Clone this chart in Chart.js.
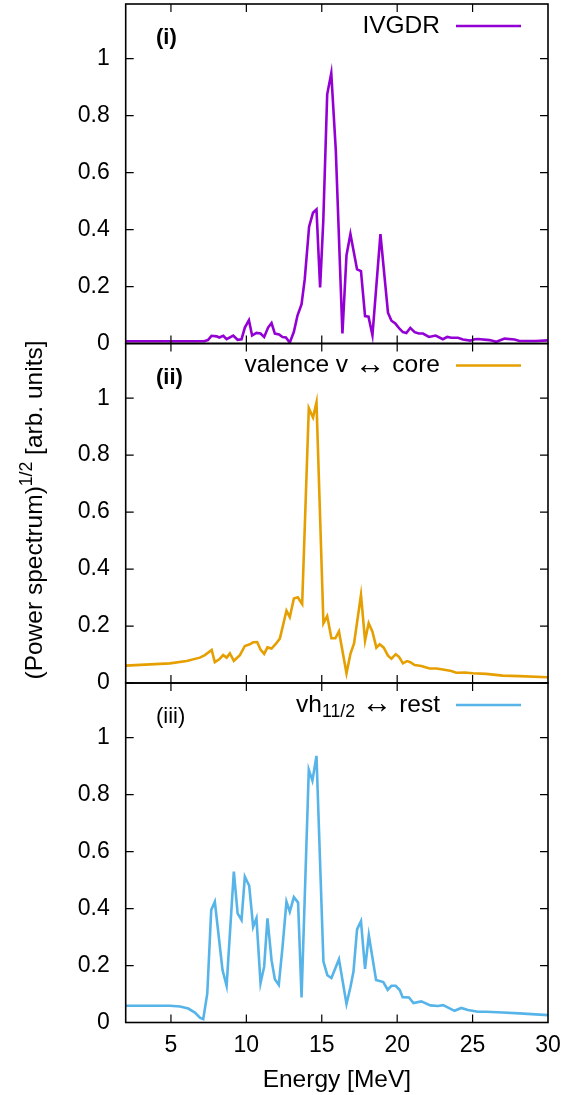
<!DOCTYPE html>
<html><head><meta charset="utf-8">
<script src="https://cdn.jsdelivr.net/npm/chart.js@4.4.1/dist/chart.umd.min.js"></script>
<style>
html,body{margin:0;padding:0;background:#fff;}
#wrap{position:relative;width:579px;height:1095px;background:#fff;}
canvas{position:absolute;left:0;top:0;}
</style></head><body>
<div id="wrap">
<canvas id="c1" width="579" height="1095"></canvas>
<canvas id="c2" width="579" height="1095"></canvas>
<canvas id="c3" width="579" height="1095"></canvas>
</div>
<script>
// ---------- data ----------
const energyI = [2.0,7.2,7.45,7.69,8.03,8.2,8.47,8.69,9.13,9.42,9.68,9.9,10.17,10.38,10.67,10.94,11.18,11.44,11.67,11.89,12.17,12.4,12.62,12.88,13.15,13.39,13.66,13.87,14.16,14.42,14.65,14.89,15.1,15.36,15.63,15.93,16.37,16.64,16.9,17.34,17.6,17.87,18.1,18.36,18.89,19.39,19.62,19.88,20.17,20.38,20.61,20.87,21.16,21.44,21.71,22.11,22.55,23.03,23.32,23.59,24.03,24.36,24.85,25.13,25.35,26.13,26.57,27.12,27.78,28.11,29.2,30.0];
const ivgdr = [0.008,0.008,0.012,0.027,0.025,0.021,0.027,0.015,0.028,0.013,0.015,0.056,0.082,0.028,0.037,0.035,0.023,0.056,0.072,0.035,0.032,0.023,0.021,0.003,0.041,0.098,0.138,0.225,0.41,0.459,0.471,0.197,0.43,0.875,0.949,0.679,0.035,0.31,0.384,0.26,0.254,0.096,0.094,0.029,0.384,0.108,0.08,0.07,0.051,0.04,0.037,0.055,0.04,0.035,0.035,0.023,0.028,0.015,0.023,0.02,0.02,0.014,0.01,0.015,0.016,0.012,0.006,0.017,0.014,0.009,0.009,0.011];

const energyII = [2.0,4.93,6.04,6.92,7.25,7.7,7.91,8.2,8.46,8.69,8.91,9.17,9.57,9.9,10.23,10.45,10.72,10.94,11.18,11.4,11.67,11.95,12.22,12.66,12.88,13.15,13.41,13.7,14.14,14.42,14.65,15.11,15.36,15.64,15.9,16.14,16.64,16.9,17.14,17.6,17.87,18.11,18.36,18.62,18.84,19.11,19.39,19.62,19.9,20.12,20.38,20.65,20.87,21.16,21.6,22.15,22.6,22.93,23.59,23.92,24.47,25.02,25.9,27.0,28.1,30.0];
const valenceCore = [0.061,0.069,0.077,0.089,0.098,0.116,0.073,0.083,0.098,0.089,0.104,0.078,0.098,0.13,0.136,0.143,0.144,0.117,0.102,0.125,0.121,0.137,0.156,0.254,0.231,0.297,0.301,0.277,0.965,0.932,0.985,0.21,0.235,0.157,0.157,0.181,0.034,0.102,0.139,0.309,0.149,0.21,0.18,0.124,0.136,0.124,0.096,0.085,0.101,0.092,0.069,0.077,0.073,0.063,0.06,0.051,0.051,0.048,0.042,0.036,0.037,0.034,0.032,0.026,0.024,0.02];

const energyIII = [2.0,4.93,5.6,6.15,6.59,6.92,7.14,7.41,7.67,7.91,8.42,8.69,9.17,9.42,9.68,9.9,10.19,10.45,10.67,10.94,11.18,11.4,11.67,11.89,12.15,12.4,12.66,12.88,13.15,13.43,13.66,14.14,14.38,14.65,15.11,15.37,15.64,16.14,16.64,16.9,17.1,17.34,17.6,17.87,18.12,18.6,19.08,19.37,19.62,19.9,20.17,20.36,20.78,21.08,21.6,22.2,22.7,23.05,23.8,24.25,24.69,25.35,25.9,27.0,28.1,30.0];
const vh112Rest = [0.059,0.059,0.056,0.049,0.035,0.017,0.012,0.102,0.395,0.424,0.184,0.129,0.53,0.383,0.36,0.512,0.48,0.336,0.366,0.138,0.196,0.366,0.219,0.152,0.132,0.266,0.424,0.389,0.44,0.421,0.088,0.887,0.849,0.936,0.214,0.166,0.156,0.222,0.065,0.124,0.178,0.327,0.356,0.188,0.306,0.149,0.142,0.115,0.129,0.129,0.114,0.089,0.088,0.068,0.074,0.06,0.058,0.061,0.041,0.051,0.044,0.038,0.038,0.035,0.032,0.026];

const xTickValues = [5,10,15,20,25,30];
const xTickLabels = ['5','10','15','20','25','30'];
const yTickValues = [0,0.2,0.4,0.6,0.8,1];
const yTickLabels = ['0','0.2','0.4','0.6','0.8','1'];

// ---------- layout ----------
const W = 579, H = 1095;
const PLOT_LEFT = 125.7, PLOT_RIGHT = 548;
const X_MIN = 2, X_MAX = 30, Y_MAX = 1.192;
const FONT = '"Liberation Sans", Arial, Helvetica, sans-serif';
const FS = 23;      // tick labels
const FT = 24.5;    // titles and legend

const panels = [
  {id:'c1', top:4, bottom:343.5, color:'#9400d3', xs:energyI, ys:ivgdr, label:'IVGDR',
   tag:'(i)', tagBold:true, legend:[{t:'IVGDR'}]},
  {id:'c2', top:343.5, bottom:683, color:'#e69f00', xs:energyII, ys:valenceCore, label:'valence v \u2194 core',
   tag:'(ii)', tagBold:true, legend:[{t:'valence v '},{t:'\u2194', arrow:true},{t:' core'}], ytitle:true},
  {id:'c3', top:683, bottom:1022.5, color:'#56b4e9', xs:energyIII, ys:vh112Rest, label:'vh11/2 \u2194 rest',
   tag:'(iii)', tagBold:false, legend:[{t:'vh'},{t:'11/2', sub:true},{t:' '},{t:'\u2194', arrow:true},{t:' rest'}], showX:true}
];

function pieceFont(p, size, weight){
  const s = (p.sub || p.sup) ? size*0.72 : (p.arrow ? size*1.25 : size);
  return (weight||'normal') + ' ' + s + 'px ' + FONT;
}
function drawRich(ctx, pieces, x, y, align, size, weight){
  let total = 0;
  pieces.forEach(p => { ctx.font = pieceFont(p,size,weight); p.w = ctx.measureText(p.t).width; total += p.w; });
  let cx = align === 'right' ? x - total : (align === 'center' ? x - total/2 : x);
  pieces.forEach(p => {
    ctx.font = pieceFont(p,size,weight);
    const dy = p.sub ? size*0.3 : (p.sup ? -size*0.42 : 0);
    ctx.fillText(p.t, cx, y + dy);
    cx += p.w;
  });
}

const framePlugin = {
  id: 'frame',
  afterDatasetsDraw(chart, args, opts) {
    const {ctx, chartArea: a, scales: {x, y}} = chart;
    const P = opts.panel;
    ctx.save();
    ctx.strokeStyle = '#000';
    ctx.lineWidth = 1.2;
    const L = 8;
    ctx.beginPath();
    xTickValues.forEach(v => {
      const p = x.getPixelForValue(v);
      if (p > a.left + 1 && p < a.right - 1) {
        ctx.moveTo(p, a.bottom); ctx.lineTo(p, a.bottom - L);
        ctx.moveTo(p, a.top); ctx.lineTo(p, a.top + L);
      }
    });
    yTickValues.forEach(v => {
      const p = y.getPixelForValue(v);
      ctx.moveTo(a.left, p); ctx.lineTo(a.left + L, p);
      ctx.moveTo(a.right, p); ctx.lineTo(a.right - L, p);
    });
    ctx.stroke();
    ctx.lineWidth = 1.6;
    ctx.strokeRect(a.left, a.top, a.right - a.left, a.bottom - a.top);

    // panel tag
    ctx.fillStyle = '#000';
    ctx.textBaseline = 'middle';
    ctx.textAlign = 'left';
    ctx.font = (P.tagBold ? 'bold ' : '') + '22px ' + FONT;
    ctx.fillText(P.tag, 156, a.top + 34);

    // legend
    const ly = a.top + 22;
    drawRich(ctx, P.legend, 440, ly, 'right', FT);
    ctx.strokeStyle = P.color;
    ctx.lineWidth = 2.6;
    ctx.beginPath(); ctx.moveTo(456, ly); ctx.lineTo(521, ly); ctx.stroke();

    // y-axis title (middle panel)
    if (P.ytitle) {
      ctx.translate(42, 510);
      ctx.rotate(-Math.PI/2);
      ctx.textBaseline = 'alphabetic';
      drawRich(ctx, [{t:'(Power spectrum)'},{t:'1/2', sup:true},{t:' [arb. units]'}], 0, 0, 'center', FT);
    }
    ctx.restore();
  }
};

Chart.defaults.font.family = FONT;
Chart.defaults.font.size = FS;
Chart.defaults.color = '#000';

panels.forEach(P => {
  new Chart(document.getElementById(P.id), {
    type: 'line',
    data: {
      datasets: [{
        label: P.label,
        data: P.xs.map((xv, i) => ({x: xv, y: P.ys[i]})),
        borderColor: P.color,
        backgroundColor: P.color,
        borderWidth: 2.6,
        pointRadius: 0,
        tension: 0,
        fill: false
      }]
    },
    options: {
      responsive: false,
      animation: false,
      devicePixelRatio: 1,
      events: [],
      layout: { padding: { left: 0, right: W - PLOT_RIGHT, top: P.top, bottom: P.showX ? 0 : H - P.bottom } },
      plugins: { legend: {display: false}, tooltip: {enabled: false}, frame: {panel: P} },
      scales: {
        x: {
          type: 'linear', min: X_MIN, max: X_MAX, display: !!P.showX,
          grid: {display: false, drawTicks: false}, border: {display: false},
          afterBuildTicks: s => { s.ticks = xTickValues.map(v => ({value: v})); },
          ticks: { padding: 9, autoSkip: false, maxRotation: 0, font: {size: FS}, color: '#000',
                   callback: (v, i) => xTickLabels[i] },
          title: { display: !!P.showX, text: 'Energy [MeV]', font: {size: FT}, color: '#000', padding: {top: 0, bottom: 0} },
          afterFit: s => { s.height = P.showX ? H - P.bottom : 0; s.paddingLeft = 0; s.paddingRight = 0; }
        },
        y: {
          type: 'linear', min: 0, max: Y_MAX,
          grid: {display: false, drawTicks: false}, border: {display: false},
          afterBuildTicks: s => { s.ticks = yTickValues.map(v => ({value: v})); },
          ticks: { padding: 16, autoSkip: false, font: {size: FS}, color: '#000',
                   callback: (v, i) => yTickLabels[i] },
          afterFit: s => { s.width = PLOT_LEFT; s.paddingTop = 0; s.paddingBottom = 0; }
        }
      }
    },
    plugins: [framePlugin]
  });
});
</script>
</body></html>
